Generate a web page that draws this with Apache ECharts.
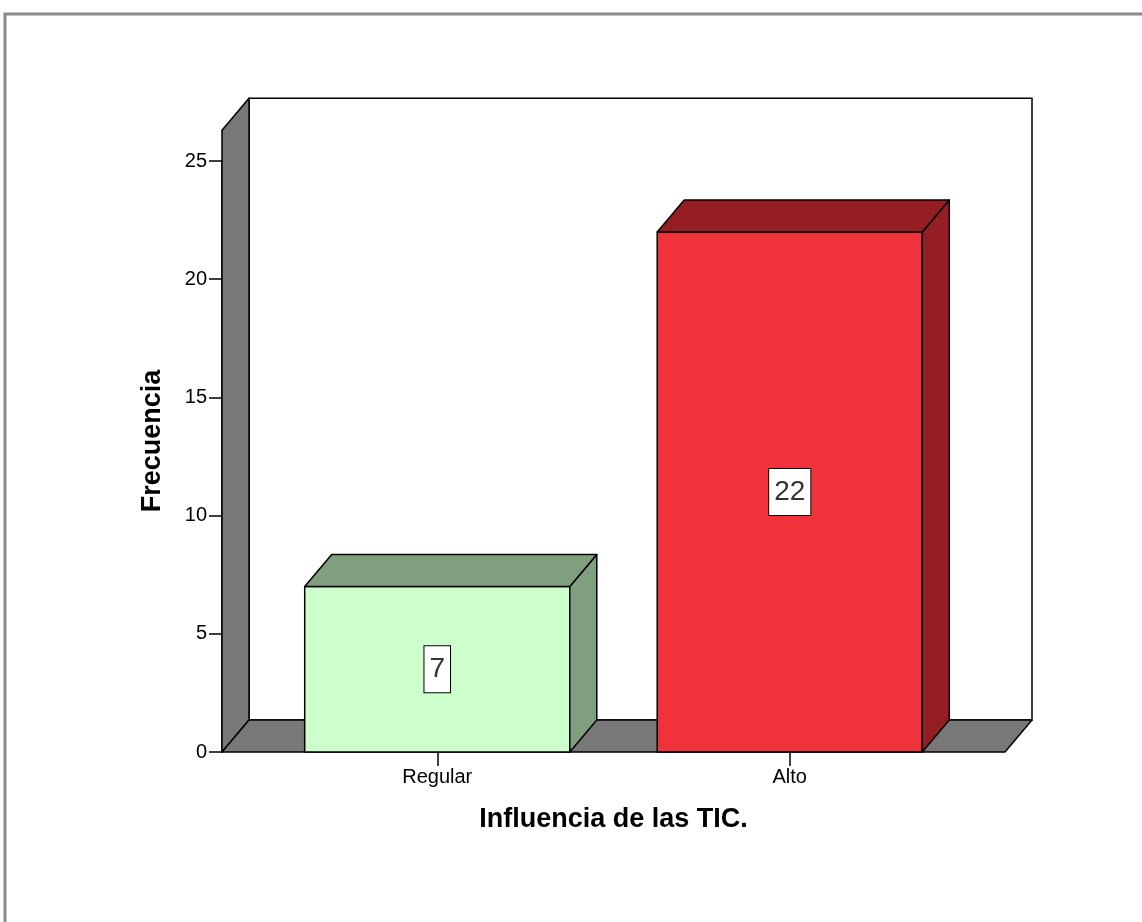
<!DOCTYPE html>
<html>
<head>
<meta charset="utf-8">
<script src="https://cdn.jsdelivr.net/npm/echarts@6/dist/echarts.min.js"></script>
<style>
  html, body { margin: 0; padding: 0; background: #fff; }
  #main { width: 1142px; height: 922px; }
</style>
</head>
<body>
<div id="main"></div>
<script>
// datos del gráfico
var categories = ['Regular', 'Alto']
var frecuencias = [7, 22]
var yTicks = [0, 5, 10, 15, 20, 25]

var frontColors = ['#ccffcc', '#f0323a']
var sideColors = ['#7f9f7f', '#941e23']

var FONT = 'Arial, "Liberation Sans", sans-serif'
var DX = 27       // profundidad en x
var DY = -32      // profundidad en y
var PAD = 39      // margen del marco fuera de las bandas
var WALL_TOP = 26.3

var chart = echarts.init(document.getElementById('main'))

function poly(points, fill) {
  return {
    type: 'polygon',
    shape: { points: points },
    style: { fill: fill, stroke: '#000', lineWidth: 1.5, lineJoin: 'round' }
  }
}

// paredes (fondo, izquierda, suelo)
function renderWalls(params, api) {
  var cs = params.coordSys
  var x0 = cs.x - PAD
  var x1 = cs.x + cs.width + PAD
  var yb = api.coord([0, 0])[1]
  var yt = api.coord([0, WALL_TOP])[1]
  return {
    type: 'group',
    children: [
      {
        type: 'rect',
        shape: { x: x0 + DX, y: yt + DY, width: x1 - x0, height: yb - yt },
        style: { fill: '#fff', stroke: '#000', lineWidth: 1.5 }
      },
      poly([[x0, yb], [x0, yt], [x0 + DX, yt + DY], [x0 + DX, yb + DY]], '#787878'),
      poly([[x0, yb], [x1, yb], [x1 + DX, yb + DY], [x0 + DX, yb + DY]], '#787878')
    ]
  }
}

function renderBar(params, api) {
  var idx = params.dataIndex
  var val = api.value(1)
  var base = api.coord([api.value(0), 0])
  var top = api.coord([api.value(0), val])
  var mid = api.coord([api.value(0), val / 2])
  var w = api.size([1, 0])[0] * 0.752
  var l = base[0] - w / 2
  var r = base[0] + w / 2
  return {
    type: 'group',
    children: [
      poly([[l, base[1]], [r, base[1]], [r, top[1]], [l, top[1]]], frontColors[idx]),
      poly([[r, base[1]], [r, top[1]], [r + DX, top[1] + DY], [r + DX, base[1] + DY]], sideColors[idx]),
      poly([[l, top[1]], [l + DX, top[1] + DY], [r + DX, top[1] + DY], [r, top[1]]], sideColors[idx]),
      {
        type: 'text',
        style: {
          text: String(val),
          x: mid[0],
          y: mid[1],
          align: 'center',
          verticalAlign: 'middle',
          fontFamily: FONT,
          fontSize: 28,
          fill: '#333',
          backgroundColor: '#fff',
          borderColor: '#000',
          borderWidth: 1,
          padding: [9, 5, 9, 5]
        }
      }
    ]
  }
}

chart.setOption({
  animation: false,
  backgroundColor: '#fff',
  grid: { left: 261, right: 176, top: 161, bottom: 170 },
  graphic: [
    {
      type: 'polyline',
      shape: { points: [[5, 922], [5, 14], [1142, 14]] },
      style: { stroke: '#8a8a8a', lineWidth: 3, fill: null },
      z: 0
    },
    {
      type: 'text',
      x: 153,
      y: 441,
      rotation: Math.PI / 2,
      style: {
        text: 'Frecuencia',
        align: 'center',
        verticalAlign: 'middle',
        fontFamily: FONT,
        fontSize: 27,
        fontWeight: 'bold',
        fill: '#000'
      }
    }
  ],
  xAxis: {
    type: 'category',
    data: categories,
    axisLine: { show: false },
    axisTick: { show: true, alignWithLabel: true, length: 14, lineStyle: { color: '#000', width: 1.5 } },
    axisLabel: { fontFamily: FONT, fontSize: 20, color: '#000', margin: 15 },
    name: 'Influencia de las TIC.',
    nameLocation: 'middle',
    nameGap: 54,
    nameTextStyle: { fontFamily: FONT, fontSize: 27, fontWeight: 'bold', color: '#000' },
    splitLine: { show: false }
  },
  yAxis: {
    type: 'value',
    min: yTicks[0],
    max: yTicks[yTicks.length - 1],
    interval: 5,
    offset: PAD,
    axisLine: { show: true, lineStyle: { color: '#000', width: 1.5 } },
    axisTick: { show: true, length: 13, lineStyle: { color: '#000', width: 1.5 } },
    axisLabel: { fontFamily: FONT, fontSize: 20, color: '#000', margin: 15 },
    splitLine: { show: false }
  },
  series: [
    {
      type: 'custom',
      renderItem: renderWalls,
      data: [[0, 0]],
      clip: false,
      silent: true,
      z: 1
    },
    {
      type: 'custom',
      renderItem: renderBar,
      data: frecuencias.map(function (v, i) { return [i, v] }),
      clip: false,
      z: 2
    }
  ]
})
</script>
</body>
</html>
